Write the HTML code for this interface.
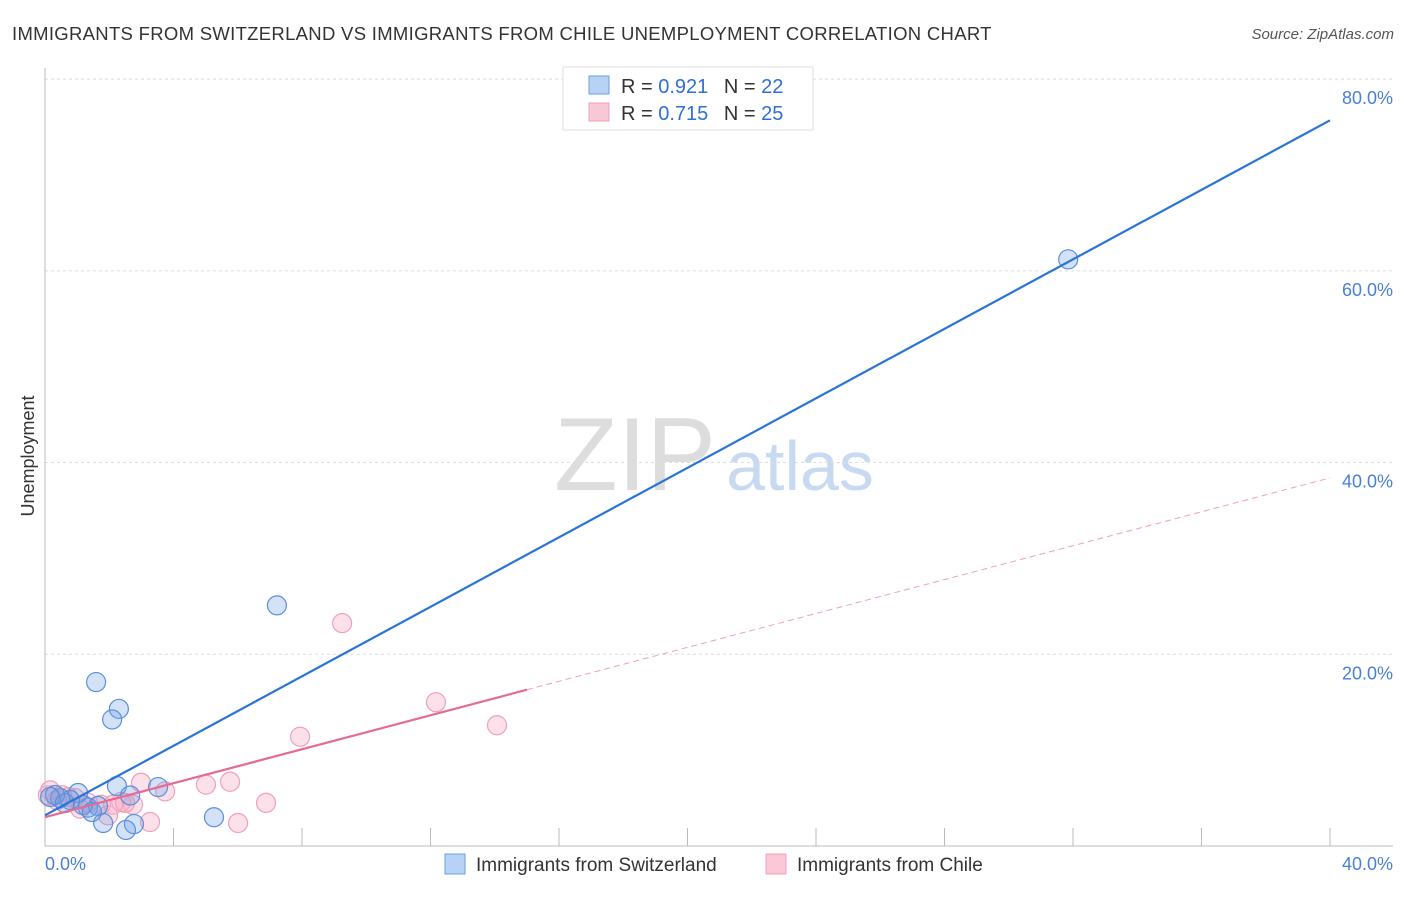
<!DOCTYPE html>
<html><head><meta charset="utf-8"><style>
body{margin:0;background:#fff;font-family:"Liberation Sans",sans-serif;}
svg text{font-family:"Liberation Sans",sans-serif;}
</style></head><body>
<svg width="1406" height="892" id="c">
<text x="12" y="40" font-size="18.5" letter-spacing="0.3" fill="#333">IMMIGRANTS FROM SWITZERLAND VS IMMIGRANTS FROM CHILE UNEMPLOYMENT CORRELATION CHART</text>
<text x="1394" y="39" font-size="15" fill="#555" font-style="italic" text-anchor="end">Source: ZipAtlas.com</text>
<text x="635" y="490" font-size="104" fill="#ddd" font-family="Liberation Serif" text-anchor="middle">ZIP</text>
<text x="800" y="490" font-size="70" fill="#c8daf2" text-anchor="middle">atlas</text>
<g id="grid"></g><g id="axes"></g><g id="marks"></g>
<text transform="translate(34,456) rotate(-90)" font-size="18" fill="#333" text-anchor="middle">Unemployment</text>
<text x="45" y="870" font-size="18" fill="#4a7fd6">0.0%</text>
<text x="1393" y="870" font-size="18" fill="#4a7fd6" text-anchor="end">40.0%</text>
<g>
<rect x="563" y="67" width="250" height="63" fill="#fff" stroke="#ddd"/>
<rect x="589" y="76" width="20" height="18" fill="#b8d2f5" stroke="#6a9de0"/>
<rect x="589" y="103" width="20" height="18" fill="#fbc8d8" stroke="#f0a0b8"/>
<text x="621" y="93" font-size="20" fill="#333">R = <tspan fill="#2f6fd6">0.921</tspan>  <tspan dx="10">N = </tspan><tspan fill="#2f6fd6">22</tspan></text>
<text x="621" y="120" font-size="20" fill="#333">R = <tspan fill="#2f6fd6">0.715</tspan>  <tspan dx="10">N = </tspan><tspan fill="#2f6fd6">25</tspan></text>
</g>
<g>
<rect x="445" y="854" width="20" height="20" fill="#b8d2f5" stroke="#6a9de0"/>
<text x="476" y="871" font-size="19" fill="#333">Immigrants from Switzerland</text>
<rect x="766" y="854" width="20" height="20" fill="#fbc8d8" stroke="#f0a0b8"/>
<text x="797" y="871" font-size="19" fill="#333">Immigrants from Chile</text>
</g>
</svg>
<script>
const yTicks=[20,40,60,80];
const yTickLabels=["20.0%","40.0%","60.0%","80.0%"];
const swissX=[31.85,7.22,1.59,2.30,2.09,3.52,2.24,5.26,2.77,2.52,1.81,2.65,1.34,1.03,0.78,0.47,0.31,0.16,0.62,1.65,1.18,1.46];
const swissY=[61.2,25.1,17.1,14.3,13.2,6.15,6.26,3.0,2.29,1.67,2.4,5.27,4.0,5.53,4.8,5.0,5.32,5.11,4.48,4.17,4.28,3.55];
const chileX=[9.25,12.17,14.07,7.94,5.76,5.01,2.99,3.74,6.88,6.01,3.27,2.74,2.37,1.74,1.96,1.34,0.93,0.53,0.16,0.09,0.37,0.72,2.49,2.12,1.09];
const chileY=[23.25,15.0,12.6,11.4,6.7,6.4,6.6,5.7,4.5,2.4,2.5,4.3,4.6,4.3,3.2,4.5,5.0,5.3,5.8,5.3,4.8,5.1,4.5,4.3,3.9];
const swissLine=[0,3.2,40,75.7];
const chileLine=[0,3.0,15,16.3];
const chileDash=[15,16.3,40,38.4];
const NS="http://www.w3.org/2000/svg";
const X=v=>45+v*32.125, Y=v=>846-v*9.586;
function mk(p,t,a){const e=document.createElementNS(NS,t);for(const k in a)e.setAttribute(k,a[k]);document.getElementById(p).appendChild(e);return e;}
yTicks.forEach((t,i)=>{
 const g=mk('grid','line',{x1:45,x2:1393,y1:Y(t),y2:Y(t),stroke:'#ddd','stroke-dasharray':'3,3'});
 
 
 const l=mk('grid','text',{x:1393,y:Y(t)+25,'font-size':18,fill:'#4a7fd6','text-anchor':'end'});
 l.textContent=yTickLabels[i];
 
 
});
const ax=mk('axes','line',{x1:45,x2:1393,y1:846,y2:846,stroke:'#bbb'});


const ay=mk('axes','line',{x1:45,x2:45,y1:68,y2:846,stroke:'#bbb'});


for(let i=1;i<=10;i++){const t=mk('axes','line',{x1:X(i*4),x2:X(i*4),y1:828,y2:846,stroke:'#bbb'});
 
 }
chileX.forEach((x,i)=>{const c=mk('marks','circle',{cx:X(x),cy:Y(chileY[i]),r:9.5,fill:'rgba(248,170,195,0.35)',stroke:'#f0a0b8','stroke-width':1.2});
 
 });
swissX.forEach((x,i)=>{const c=mk('marks','circle',{cx:X(x),cy:Y(swissY[i]),r:9.5,fill:'rgba(110,160,230,0.3)',stroke:'#5b8fdb','stroke-width':1.2});
 
 });
const b=mk('marks','line',{x1:X(swissLine[0]),y1:Y(swissLine[1]),x2:X(swissLine[2]),y2:Y(swissLine[3]),stroke:'#2a74d6','stroke-width':2.2});


const p=mk('marks','line',{x1:X(chileLine[0]),y1:Y(chileLine[1]),x2:X(chileLine[2]),y2:Y(chileLine[3]),stroke:'#e56a95','stroke-width':2.2});


const d=mk('marks','line',{x1:X(chileDash[0]),y1:Y(chileDash[1]),x2:X(chileDash[2]),y2:Y(chileDash[3]),stroke:'#eea0b8','stroke-width':1,'stroke-dasharray':'6,4'});


</script>
</body></html>
